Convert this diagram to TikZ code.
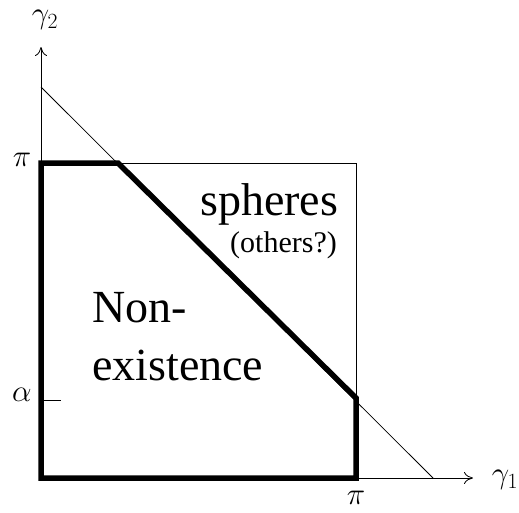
\documentclass[tikz,border=0pt]{standalone}
\usepackage{fix-cm}
\usepackage{fontspec}
\setmainfont{Liberation Serif}
\usetikzlibrary{arrows.meta}
\begin{document}
\begin{tikzpicture}[x=1pt,y=-1pt,
  thinline/.style={line width=0.8pt},
  thickline/.style={line width=5.5pt,line join=miter},
  axis/.style={line width=0.8pt,-{To[length=9pt,width=12pt]}},
  big/.style={font=\fontsize{46}{58}\selectfont,inner sep=0pt},
  small/.style={font=\fontsize{30}{36}\selectfont,inner sep=0pt},
  lab/.style={font=\fontsize{31}{36}\selectfont,inner sep=0pt}]
\useasboundingbox (0,0) rectangle (519,512);
\coordinate (O) at (41,478);
\coordinate (Xend) at (473,478);
\coordinate (Yend) at (41,47);
\coordinate (Dtop) at (41,87);
\coordinate (Dbot) at (433,478);
\coordinate (PiY) at (41,163);
\coordinate (Kink) at (118,163);
\coordinate (SqC) at (356,163);
\coordinate (Rc) at (356,398);
\coordinate (PiX) at (356,478);
\coordinate (At) at (41,400);
\coordinate (Ae) at (61,400);
% axes
\draw[axis] (O) -- (Xend);
\draw[axis] (O) -- (Yend);
% thin lines
\draw[thinline] (Dtop) -- (Dbot);
\draw[thinline] (Kink) -- (SqC) -- (Rc);
\draw[thinline] (At) -- (Ae);
% thick region
\draw[thickline] (O) -- (PiY) -- (Kink) -- (Rc) -- (PiX) -- cycle;
% labels
\node[lab] (g2) at (45,20) {$\gamma_2$};
\node[lab] (g1) at (505,480) {$\gamma_1$};
\node[lab] (pix) at (356,498) {$\pi$};
\node[lab] (piy) at (22,160) {$\pi$};
\node[lab] (al) at (22,395) {$\alpha$};
\node[big,anchor=base west] (sph) at (200,215) {spheres};
\node[small,anchor=base east] (oth) at (337,252) {(others?)};
\node[big,anchor=base west] (non) at (92,322) {Non-};
\node[big,anchor=base west] (ex) at (92,380) {existence};
\end{tikzpicture}
\end{document}
